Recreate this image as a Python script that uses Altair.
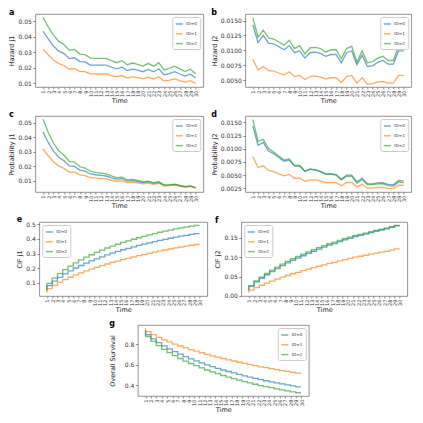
import altair as alt
import pandas as pd

times = list(range(1, 31))
ids = ["ID=0", "ID=1", "ID=2"]
colors = ["#1f77b4", "#ff7f0e", "#2ca02c"]

# ---- Hazard j1 ----
haz1_id0 = [0.0436,0.0386,0.0340,0.0307,0.0291,0.0259,0.0264,0.0239,0.0237,0.0217,0.0216,0.0216,0.0216,0.0203,0.0193,0.0203,0.0181,0.0191,0.0184,0.0174,0.0189,0.0173,0.0193,0.0154,0.0162,0.0174,0.0159,0.0145,0.0158,0.0133]
haz1_id1 = [0.0320,0.0284,0.0250,0.0226,0.0214,0.0190,0.0194,0.0176,0.0174,0.0160,0.0159,0.0159,0.0159,0.0149,0.0142,0.0149,0.0133,0.0140,0.0135,0.0128,0.0139,0.0127,0.0142,0.0113,0.0119,0.0128,0.0117,0.0107,0.0116,0.0098]
haz1_id2 = [0.0525,0.0465,0.0410,0.0370,0.0350,0.0312,0.0318,0.0288,0.0285,0.0262,0.0260,0.0260,0.0260,0.0245,0.0232,0.0245,0.0218,0.0230,0.0222,0.0210,0.0228,0.0208,0.0232,0.0185,0.0195,0.0210,0.0192,0.0175,0.0190,0.0160]
# ---- Hazard j2 ----
haz2_id0 = [0.0143,0.0113,0.0125,0.0112,0.0111,0.0106,0.0101,0.0108,0.0096,0.0099,0.0087,0.0096,0.0097,0.0095,0.0090,0.0093,0.0093,0.0079,0.0096,0.0099,0.0076,0.0092,0.0073,0.0074,0.0080,0.0083,0.0077,0.0077,0.0099,0.0099]
haz2_id1 = [0.0085,0.0067,0.0073,0.0066,0.0065,0.0062,0.0059,0.0064,0.0056,0.0058,0.0051,0.0056,0.0057,0.0055,0.0052,0.0054,0.0054,0.0046,0.0056,0.0058,0.0045,0.0054,0.0043,0.0044,0.0047,0.0048,0.0045,0.0045,0.0058,0.0058]
haz2_id2 = [0.0155,0.0122,0.0134,0.0121,0.0119,0.0114,0.0109,0.0117,0.0103,0.0108,0.0094,0.0104,0.0105,0.0103,0.0097,0.0101,0.0101,0.0086,0.0103,0.0107,0.0080,0.0099,0.0079,0.0081,0.0087,0.0090,0.0083,0.0083,0.0107,0.0107]
# ---- Probability j1 ----
prob1_id0 = [0.0436,0.03637,0.03043,0.0262,0.0238,0.02033,0.01996,0.01741,0.01667,0.01475,0.01422,0.01379,0.01336,0.01216,0.01122,0.01147,0.00992,0.01018,0.00954,0.00877,0.00927,0.00826,0.00897,0.00697,0.00716,0.00751,0.00668,0.00595,0.00634,0.0052]
prob1_id1 = [0.032,0.02725,0.02315,0.02025,0.01861,0.01606,0.01599,0.01414,0.01364,0.01226,0.01191,0.01166,0.01141,0.01046,0.00977,0.01005,0.00879,0.00908,0.00859,0.00799,0.00852,0.00764,0.00839,0.00655,0.00679,0.00718,0.00645,0.0058,0.0062,0.00514]
prob1_id2 = [0.0525,0.04334,0.03597,0.03069,0.02761,0.02346,0.02289,0.01984,0.01884,0.01665,0.01591,0.01535,0.01479,0.01343,0.01227,0.01253,0.01077,0.011,0.01028,0.00941,0.00989,0.00874,0.00945,0.0073,0.0075,0.00784,0.00696,0.00617,0.00652,0.00533]
# ---- Probability j2 ----
prob2_id0 = [0.0143,0.01065,0.01119,0.00956,0.00908,0.00832,0.00764,0.00787,0.00675,0.00673,0.00573,0.00613,0.006,0.00569,0.00523,0.00525,0.0051,0.00421,0.00498,0.00499,0.00373,0.00439,0.00339,0.00335,0.00354,0.00358,0.00324,0.00316,0.00397,0.00387]
prob2_id1 = [0.0085,0.00643,0.00676,0.00591,0.00565,0.00524,0.00486,0.00514,0.00439,0.00444,0.00382,0.00411,0.00409,0.00386,0.00358,0.00364,0.00357,0.00298,0.00356,0.00362,0.00276,0.00325,0.00254,0.00255,0.00268,0.00269,0.00248,0.00244,0.0031,0.00304]
prob2_id2 = [0.0155,0.01137,0.01176,0.01004,0.00939,0.00857,0.00785,0.00806,0.00681,0.00686,0.00575,0.00614,0.00597,0.00565,0.00513,0.00517,0.00499,0.00411,0.00477,0.00479,0.00347,0.00416,0.00322,0.0032,0.00334,0.00336,0.00301,0.00292,0.00367,0.00356]
# ---- CIF j1 ----
cif1_id0 = [0.0436,0.07997,0.1104,0.1366,0.1604,0.18073,0.20069,0.2181,0.23477,0.24952,0.26374,0.27753,0.29089,0.30305,0.31427,0.32574,0.33566,0.34584,0.35538,0.36415,0.37342,0.38168,0.39065,0.39762,0.40478,0.41229,0.41897,0.42492,0.43126,0.43646]
cif1_id1 = [0.032,0.05925,0.0824,0.10265,0.12126,0.13732,0.15331,0.16745,0.18109,0.19335,0.20526,0.21692,0.22833,0.23879,0.24856,0.25861,0.2674,0.27648,0.28507,0.29306,0.30158,0.30922,0.31761,0.32416,0.33095,0.33813,0.34458,0.35038,0.35658,0.36172]
cif1_id2 = [0.0525,0.09584,0.13181,0.1625,0.19011,0.21357,0.23646,0.2563,0.27514,0.29179,0.3077,0.32305,0.33784,0.35127,0.36354,0.37607,0.38684,0.39784,0.40812,0.41753,0.42742,0.43616,0.44561,0.45291,0.46041,0.46825,0.47521,0.48138,0.4879,0.49323]
# ---- CIF j2 ----
cif2_id0 = [0.0143,0.02495,0.03614,0.0457,0.05478,0.0631,0.07074,0.07861,0.08536,0.09209,0.09782,0.10395,0.10995,0.11564,0.12087,0.12612,0.13122,0.13543,0.14041,0.1454,0.14913,0.15352,0.15691,0.16026,0.1638,0.16738,0.17062,0.17378,0.17775,0.18162]
cif2_id1 = [0.0085,0.01493,0.02169,0.0276,0.03325,0.03849,0.04335,0.04849,0.05288,0.05732,0.06114,0.06525,0.06934,0.0732,0.07678,0.08042,0.08399,0.08697,0.09053,0.09415,0.09691,0.10016,0.1027,0.10525,0.10793,0.11062,0.1131,0.11554,0.11864,0.12168]
cif2_id2 = [0.0155,0.02687,0.03863,0.04867,0.05806,0.06663,0.07448,0.08254,0.08935,0.09621,0.10196,0.1081,0.11407,0.11972,0.12485,0.13002,0.13501,0.13912,0.14389,0.14868,0.15215,0.15631,0.15953,0.16273,0.16607,0.16943,0.17244,0.17536,0.17903,0.18259]
# ---- Overall survival ----
surv_id0 = [0.9421,0.89508,0.85346,0.8177,0.78482,0.75617,0.72857,0.70329,0.67987,0.65839,0.63844,0.61852,0.59916,0.58131,0.56486,0.54814,0.53312,0.51873,0.50421,0.49045,0.47745,0.4648,0.45244,0.44212,0.43142,0.42033,0.41041,0.4013,0.39099,0.38192]
surv_id1 = [0.9595,0.92582,0.89591,0.86975,0.84549,0.82419,0.80334,0.78406,0.76603,0.74933,0.7336,0.71783,0.70233,0.68801,0.67466,0.66097,0.64861,0.63655,0.6244,0.61279,0.60151,0.59062,0.57969,0.57059,0.56112,0.55125,0.54232,0.53408,0.52478,0.5166]
surv_id2 = [0.932,0.87729,0.82956,0.78883,0.75183,0.7198,0.68906,0.66116,0.63551,0.612,0.59034,0.56885,0.54809,0.52901,0.51161,0.49391,0.47815,0.46304,0.44799,0.43379,0.42043,0.40753,0.39486,0.38436,0.37352,0.36232,0.35235,0.34326,0.33307,0.32418]

FONT = "DejaVu Sans"


def long_df(s0, s1, s2):
    rows = []
    for name, s in zip(ids, [s0, s1, s2]):
        for t, v in zip(times, s):
            rows.append({"Time": t, "value": v, "ID": name})
    return pd.DataFrame(rows)


def panel(df, letter, ytitle, domain, ticks, fmt, w, h, lorient, step=False, tpad=3):
    mark = alt.Chart(df).mark_line(
        strokeWidth=1.3, opacity=0.65, clip=True,
        interpolate="step-before" if step else "linear",
    )
    return mark.encode(
        x=alt.X("Time:Q",
                scale=alt.Scale(domain=[-0.45, 31.45], nice=False, zero=False),
                axis=alt.Axis(values=times, format="d", labelAngle=270, labelFontSize=5,
                              labelFlush=False, labelOverlap=False, labelPadding=1,
                              titlePadding=1, tickSize=2, title="Time")),
        y=alt.Y("value:Q",
                scale=alt.Scale(domain=domain, nice=False, zero=False),
                axis=alt.Axis(values=ticks, format=fmt, title=ytitle, titlePadding=tpad)),
        color=alt.Color("ID:N", scale=alt.Scale(domain=ids, range=colors),
                        legend=alt.Legend(title=None, orient=lorient)),
    ).properties(
        width=w, height=h,
        title=alt.TitleParams(letter, anchor="start", fontSize=8, fontWeight="bold",
                              font=FONT, offset=-3),
    )


pa = panel(long_df(haz1_id0, haz1_id1, haz1_id2), "a", "Hazard j1", [0.0075, 0.0547],
           [0.01, 0.02, 0.03, 0.04, 0.05], ".2f", 168, 73, "top-right")
pb = panel(long_df(haz2_id0, haz2_id1, haz2_id2), "b", "Hazard j2", [0.00385, 0.0161],
           [0.005, 0.0075, 0.01, 0.0125, 0.015], ".4f", 166, 73, "top-right")
pc = panel(long_df(prob1_id0, prob1_id1, prob1_id2), "c", "Probability j1", [0.0024, 0.0545],
           [0.01, 0.02, 0.03, 0.04, 0.05], ".2f", 168, 76, "top-right")
pd_ = panel(long_df(prob2_id0, prob2_id1, prob2_id2), "d", "Probability j2", [0.0018, 0.0162],
            [0.0025, 0.005, 0.0075, 0.01, 0.0125, 0.015], ".4f", 166, 76, "top-right")
pe = panel(long_df(cif1_id0, cif1_id1, cif1_id2), "e", "CIF j1", [0.009, 0.516],
           [0.1, 0.2, 0.3, 0.4, 0.5], ".1f", 168, 74, "top-left", step=True)
pf = panel(long_df(cif2_id0, cif2_id1, cif2_id2), "f", "CIF j2", [-0.0002, 0.1913],
           [0.0, 0.05, 0.1, 0.15], ".2f", 166, 74, "top-left", step=True)
pg = panel(long_df(surv_id0, surv_id1, surv_id2), "g", "Overall Survival", [0.292, 0.991],
           [0.4, 0.6, 0.8], ".1f", 171, 71, "top-right", step=True, tpad=9)

row1 = alt.hconcat(pa, pb, spacing=6).resolve_scale(color="independent").resolve_legend(color="independent")
row2 = alt.hconcat(pc, pd_, spacing=6).resolve_scale(color="independent").resolve_legend(color="independent")
row3 = alt.hconcat(pe, pf, spacing=6).resolve_scale(color="independent").resolve_legend(color="independent")

chart = alt.vconcat(row1, row2, row3, pg, spacing=5, center=True).resolve_scale(
    color="independent").resolve_legend(color="independent").properties(
    padding={"left": 0, "top": 0, "right": 0, "bottom": 0}
).configure_view(
    stroke="#777", strokeWidth=0.8
).configure_axis(
    domain=False, grid=False, tickColor="#444", tickSize=2.5, tickWidth=0.6,
    labelFont=FONT, titleFont=FONT, labelFontSize=6, titleFontSize=6.5,
    labelColor="#333", titleColor="#222", titleFontWeight="normal", labelPadding=1.5,
).configure_legend(
    offset=3, padding=2.5, strokeColor="#ccc", fillColor="white", cornerRadius=2,
    labelFont=FONT, labelFontSize=4.2, labelColor="#333", symbolType="stroke",
    symbolSize=50, symbolStrokeWidth=1.4, rowPadding=1.8, labelOffset=2.5,
    symbolOpacity=0.65,
)

chart.save("out.html", embed_options={"renderer": "svg", "actions": False})
